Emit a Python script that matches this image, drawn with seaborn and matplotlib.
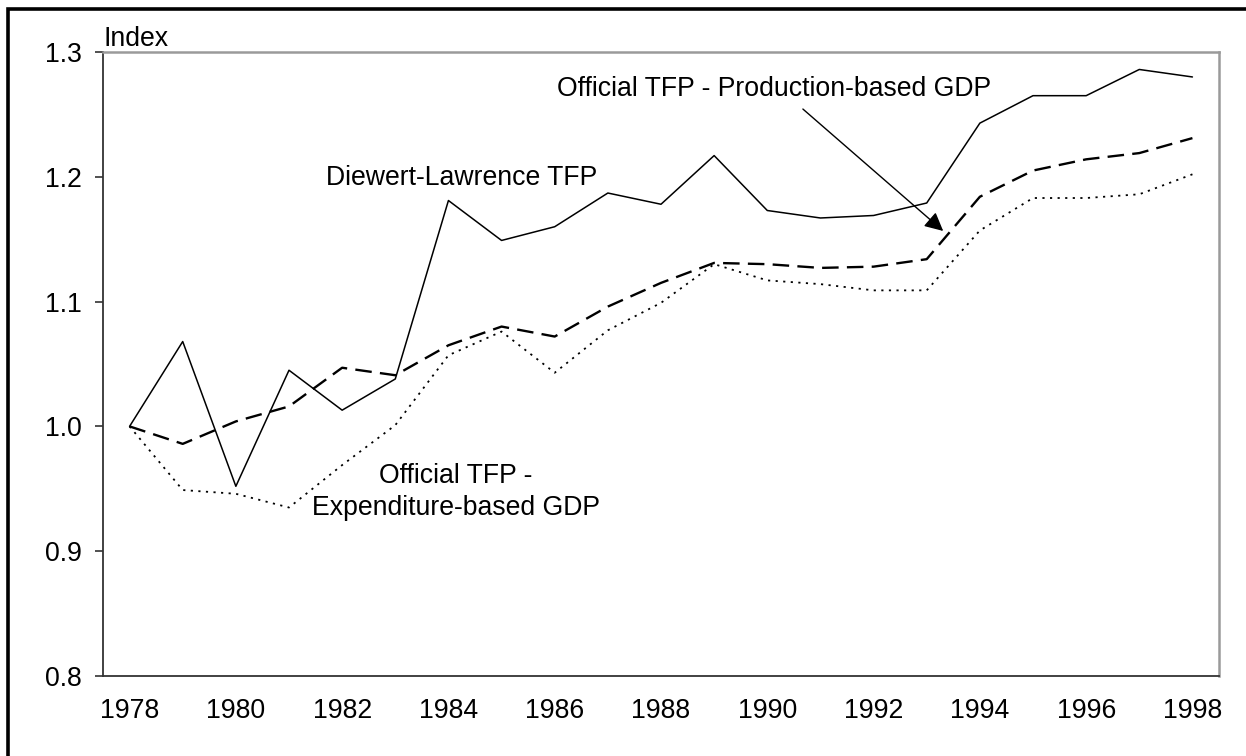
import matplotlib
matplotlib.use("Agg")
import matplotlib.pyplot as plt
import seaborn as sns
import numpy as np
import pandas as pd
from matplotlib.lines import Line2D
from matplotlib.ticker import FixedLocator

years = list(range(1978, 1999))
diewert_lawrence = [1.000, 1.068, 0.952, 1.045, 1.013, 1.038, 1.181, 1.149, 1.160, 1.187,
                    1.178, 1.217, 1.173, 1.167, 1.169, 1.179, 1.243, 1.265, 1.265, 1.286, 1.280]
official_production = [1.000, 0.986, 1.004, 1.016, 1.047, 1.041, 1.065, 1.080, 1.072, 1.096,
                       1.115, 1.131, 1.130, 1.127, 1.128, 1.134, 1.184, 1.205, 1.214, 1.219, 1.231]
official_expenditure = [1.000, 0.949, 0.946, 0.935, 0.969, 1.001, 1.057, 1.076, 1.043, 1.077,
                        1.099, 1.130, 1.117, 1.114, 1.109, 1.109, 1.157, 1.183, 1.183, 1.186, 1.202]
tick_labels = [str(y) for y in years[::2]]
y_ticks = [0.8, 0.9, 1.0, 1.1, 1.2, 1.3]

sns.set_style("white")
plt.rcParams['font.family'] = ['Liberation Sans', 'DejaVu Sans']
plt.rcParams['text.color'] = 'black'

W, H = 1246, 756
fig = plt.figure(figsize=(W / 100, H / 100), dpi=100, facecolor="white",
                 edgecolor="white", linewidth=0)
ax = fig.add_axes([103 / W, 1 - 676 / H, (1219 - 103) / W, (676 - 52) / H])

idx = np.arange(len(years))
df = pd.DataFrame({
    "idx": np.concatenate([idx, idx, idx]),
    "value": diewert_lawrence + official_production + official_expenditure,
    "series": ["Diewert-Lawrence TFP"] * len(years)
              + ["Official TFP - Production-based GDP"] * len(years)
              + ["Official TFP - Expenditure-based GDP"] * len(years),
})

styles = {
    "Diewert-Lawrence TFP": dict(lw=1.1, dashes=None),
    "Official TFP - Production-based GDP": dict(lw=1.7, dashes=(7, 3.5)),
    "Official TFP - Expenditure-based GDP": dict(lw=1.3, dashes=(1.2, 3)),
}
for name, st in styles.items():
    sub = df[df["series"] == name]
    sns.lineplot(data=sub, x="idx", y="value", ax=ax, color="black",
                 linewidth=st["lw"], legend=False)
    line = ax.lines[-1]
    if st["dashes"] is not None:
        line.set_dashes(st["dashes"])

ax.set_xlim(-0.5, len(years) - 0.5)
ax.set_ylim(0.8, 1.3)
ax.set_xlabel("")
ax.set_ylabel("")

fs = 19.2
ax.xaxis.set_major_locator(FixedLocator(idx[::2]))
ax.set_xticklabels(tick_labels)
ax.xaxis.set_minor_locator(FixedLocator(np.arange(-0.5, len(years), 1.0)))
ax.tick_params(axis="x", which="major", length=0, pad=16, labelsize=fs, labelcolor="black")
ax.tick_params(axis="x", which="minor", length=5, width=1.2, color="#333333", direction="out")
ax.set_yticks(y_ticks)
ax.set_yticklabels([f"{v:.1f}" for v in y_ticks])
ax.tick_params(axis="y", which="major", length=6, width=1.2, color="#333333",
               direction="out", pad=9, labelsize=fs, labelcolor="black")
ax.tick_params(left=True, bottom=True)

for s in ["left", "bottom"]:
    ax.spines[s].set_color("#333333")
    ax.spines[s].set_linewidth(1.3)
for s in ["top", "right"]:
    ax.spines[s].set_color("#9a9a9a")
    ax.spines[s].set_linewidth(1.8)
    ax.spines[s].set_visible(True)

ax.text(0.0, 1.0096, "Index", transform=ax.transAxes, ha="left", va="baseline", fontsize=fs)
ax.text(8.04, 1.2704, "Official TFP - Production-based GDP", ha="left", va="center", fontsize=fs)
ax.text(3.70, 1.199, "Diewert-Lawrence TFP", ha="left", va="center", fontsize=fs)
ax.text(6.14, 0.9603, "Official TFP -", ha="center", va="center", fontsize=fs)
ax.text(6.14, 0.9346, "Expenditure-based GDP", ha="center", va="center", fontsize=fs)
ax.annotate("", xy=(15.31, 1.1566), xytext=(12.67, 1.2543),
            arrowprops=dict(arrowstyle="-|>", color="black", lw=1.0,
                            mutation_scale=28, shrinkA=0, shrinkB=0))

x0 = 7.5 / W
ytop = 1 - 8.5 / H
frame = Line2D([x0, x0, 1.0], [0.0, ytop, ytop], transform=fig.transFigure,
               color="black", linewidth=2.6, solid_joinstyle="miter")
fig.add_artist(frame)

fig.savefig("out.png", dpi=100, facecolor="white", edgecolor="white")
